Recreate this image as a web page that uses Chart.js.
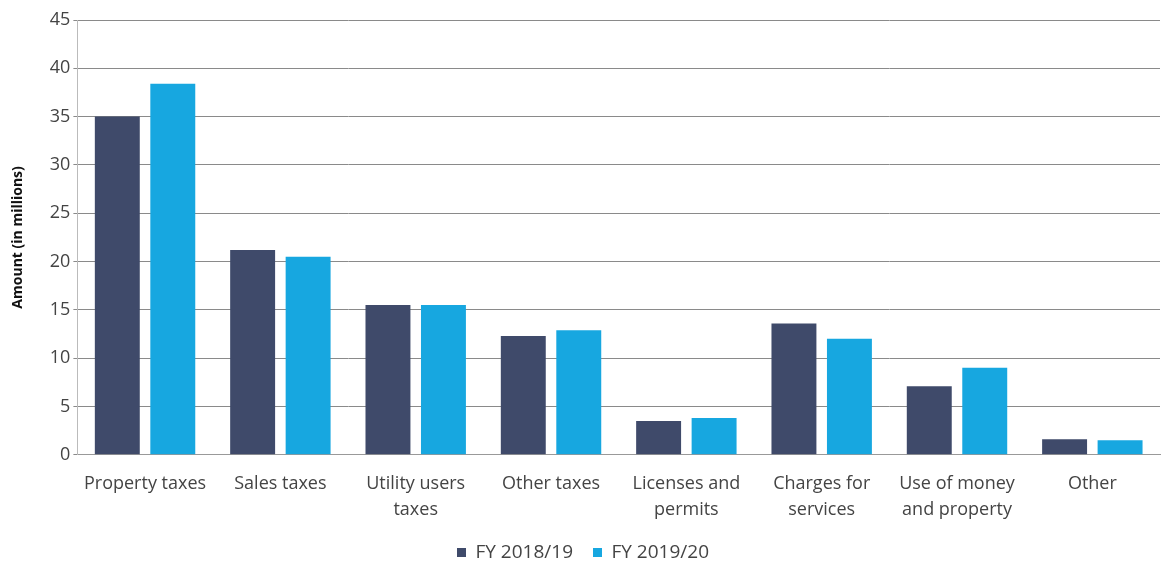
<!DOCTYPE html>
<html>
<head>
<meta charset="utf-8">
<script src="https://cdn.jsdelivr.net/npm/chart.js@4"></script>
<style>
  html, body { margin: 0; padding: 0; background: #fff; }
  #wrap { width: 1173px; height: 561px; }
</style>
</head>
<body>
<div id="wrap"><canvas id="chart"></canvas></div>
<script>
// -------------------- Data --------------------
const categories = [
  "Property taxes", ["Sales taxes"], ["Utility users", "taxes"], "Other taxes",
  ["Licenses and", "permits"], ["Charges for", "services"], ["Use of money", "and property"], "Other"
];
const fy1819 = [35.0, 21.2, 15.5, 12.3, 3.5, 13.6, 7.1, 1.6];
const fy1920 = [38.4, 20.5, 15.5, 12.9, 3.8, 12.0, 9.0, 1.5];
const seriesNames = ["FY 2018/19", "FY 2019/20"];
const yTicks = [0, 5, 10, 15, 20, 25, 30, 35, 40, 45];

const FONT = "'Open Sans', sans-serif";

// -------------------- Chart --------------------
const ctx = document.getElementById("chart").getContext("2d");
new Chart(ctx, {
  type: "bar",
  data: {
    labels: categories,
    datasets: [
      { label: seriesNames[0], data: fy1819, backgroundColor: "#3f4a6a", categoryPercentage: 0.82, barPercentage: 0.81 },
      { label: seriesNames[1], data: fy1920, backgroundColor: "#17a7e0", categoryPercentage: 0.82, barPercentage: 0.81 }
    ]
  },
  options: {
    responsive: true,
    maintainAspectRatio: false,
    animation: false,
    layout: { padding: { top: 20, right: 13, left: 6, bottom: -11 } },
    plugins: {
      legend: {
        position: "bottom",
        labels: {
          boxWidth: 9, boxHeight: 9, padding: 20,
          color: "#444", font: { family: FONT, size: 19 }
        }
      },
      tooltip: { enabled: false }
    },
    scales: {
      x: {
        grid: { display: false },
        border: { color: "#999" },
        afterFit: axis => { axis.height -= 8; },
        ticks: {
          color: "#444", maxRotation: 0, autoSkip: false, padding: 8,
          font: { family: FONT, size: 18, lineHeight: 1.45 }
        }
      },
      y: {
        min: 0, max: 45,
        afterBuildTicks: axis => { axis.ticks = yTicks.map(v => ({ value: v })); },
        grid: { color: "#8a8a8a", lineWidth: 1, tickLength: 4 },
        border: { color: "#bbb" },
        ticks: {
          color: "#444", padding: 3,
          font: { family: FONT, size: 18 }
        },
        title: {
          display: true, text: "Amount (in millions)", color: "#111",
          font: { family: FONT, size: 14, weight: "bold" },
          padding: { bottom: 20 }
        }
      }
    }
  }
});
</script>
</body>
</html>
